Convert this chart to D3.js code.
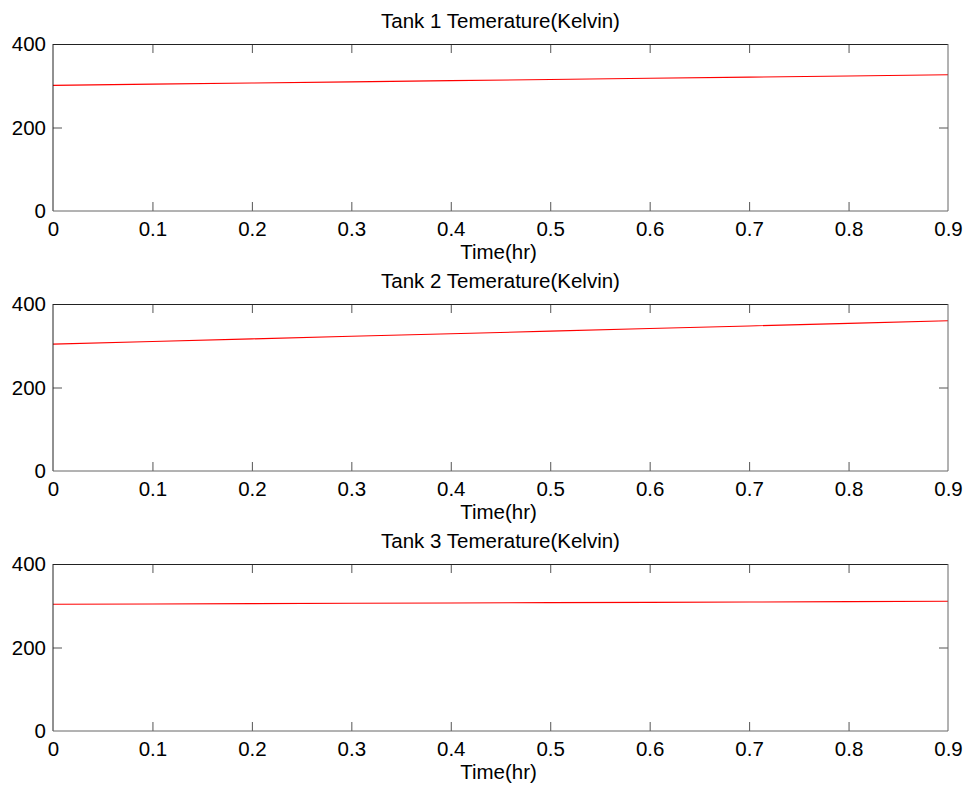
<!DOCTYPE html>
<html>
<head>
<meta charset="utf-8">
<script src="https://cdnjs.cloudflare.com/ajax/libs/d3/7.8.5/d3.min.js"></script>
<style>
    body { margin: 0; background: #fff; }
    #chart { width: 967px; height: 785px; }
    text { font-family: "Liberation Sans", Arial, sans-serif; fill: #000; }
</style>
</head>
<body>
<div id="chart"></div>
<script>
// data (time in hours, temperature in Kelvin)
const time = [0, 0.1, 0.2, 0.3, 0.4, 0.5, 0.6, 0.7, 0.8, 0.9];
const tank1 = [301, 303.8, 306.6, 309.4, 312.2, 315, 317.8, 320.6, 323.4, 326.2];
const tank2 = [304, 310.2, 316.4, 322.6, 328.8, 335, 341.2, 347.4, 353.6, 360];
const tank3 = [303.5, 304.3, 305.1, 305.9, 306.7, 307.4, 308.2, 309, 309.8, 310.6];

const titles = ['Tank 1 Temerature(Kelvin)', 'Tank 2 Temerature(Kelvin)', 'Tank 3 Temerature(Kelvin)'];
const xTicks = [0, 0.1, 0.2, 0.3, 0.4, 0.5, 0.6, 0.7, 0.8, 0.9];
const yTicks = [0, 200, 400];
const xLabel = 'Time(hr)';

class TankPlot {
    constructor(svg, top, title, values) {
        this.svg = svg;
        this.top = top;
        this.title = title;
        this.values = values;
        this.left = 53;
        this.right = 948;
        this.h = 167;
        this.init();
    }

    init() {
        this.g = this.svg.append('g').attr('transform', `translate(0,${this.top})`);
        this.initScale();
        this.drawLine();
        this.drawAxes();
        this.drawText();
    }

    initScale() {
        this.x = d3.scaleLinear().domain([0, 0.9]).range([this.left, this.right]);
        this.y = d3.scaleLinear().domain([0, 400]).range([this.h, 0]);
    }

    drawLine() {
        const line = d3.line()
            .x((d, i) => this.x(time[i]))
            .y(d => this.y(d));
        this.g.append('path')
            .datum(this.values)
            .attr('d', line)
            .attr('fill', 'none')
            .attr('stroke', '#ff0000')
            .attr('stroke-width', 1.1);
    }

    drawAxes() {
        const fmt = d => d === 0 ? '0' : String(d);
        const tick = 9;

        // bottom & top
        const bottom = this.g.append('g')
            .attr('transform', `translate(0,${this.h})`)
            .call(d3.axisBottom(this.x).tickValues(xTicks).tickSize(-tick).tickPadding(13).tickFormat(fmt));
        const top = this.g.append('g')
            .call(d3.axisTop(this.x).tickValues(xTicks).tickSize(-tick).tickFormat(''));
        // left & right
        const left = this.g.append('g')
            .attr('transform', `translate(${this.left},0)`)
            .call(d3.axisLeft(this.y).tickValues(yTicks).tickSize(-tick).tickPadding(7));
        const right = this.g.append('g')
            .attr('transform', `translate(${this.right},0)`)
            .call(d3.axisRight(this.y).tickValues(yTicks).tickSize(-tick).tickFormat(''));

        [bottom, top, left, right].forEach(a => {
            a.select('.domain').remove();
            a.selectAll('line').attr('stroke', '#555');
            a.selectAll('text').style('font-size', '20.5px').attr('fill', '#000');
        });
        bottom.selectAll('text').attr('dy', '0.6em');
        // ticks at the ends sit on the box, hide them
        [bottom, top].forEach(a => a.selectAll('.tick').filter(d => d === 0 || d === 0.9).select('line').remove());
        [left, right].forEach(a => a.selectAll('.tick').filter(d => d === 0 || d === 400).select('line').remove());

        // box
        this.g.append('line').attr('x1', this.left).attr('x2', this.right).attr('y1', 0.5).attr('y2', 0.5).attr('stroke', '#222');
        this.g.append('line').attr('x1', this.left).attr('x2', this.left).attr('y1', 0).attr('y2', this.h).attr('stroke', '#222');
        this.g.append('line').attr('x1', this.left).attr('x2', this.right).attr('y1', this.h).attr('y2', this.h).attr('stroke', '#666');
        this.g.append('line').attr('x1', this.right).attr('x2', this.right).attr('y1', 0).attr('y2', this.h).attr('stroke', '#666');
    }

    drawText() {
        const cx = (this.left + this.right) / 2;
        this.g.append('text')
            .attr('x', cx).attr('y', -16)
            .attr('text-anchor', 'middle')
            .style('font-size', '20.5px')
            .text(this.title);
        this.g.append('text')
            .attr('x', cx - 2).attr('y', this.h + 48)
            .attr('text-anchor', 'middle')
            .style('font-size', '20.5px')
            .text(xLabel);
    }
}

function charts() {
    const div = d3.select('#chart');
    const svg = div.append('svg').attr('width', 967).attr('height', 785);
    const series = [tank1, tank2, tank3];
    const tops = [44, 304, 564];
    series.forEach((s, i) => new TankPlot(svg, tops[i], titles[i], s));
}

charts()
</script>
</body>
</html>
